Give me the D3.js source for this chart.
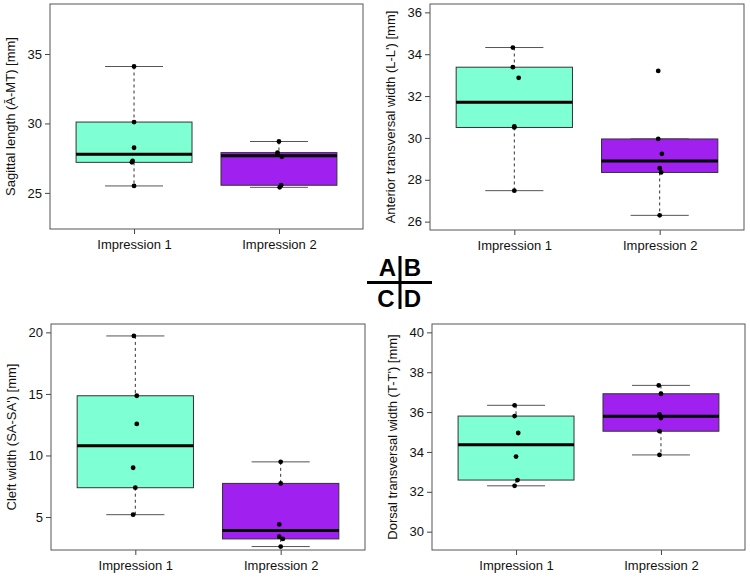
<!DOCTYPE html>
<html><head><meta charset="utf-8">
<script src="https://cdn.jsdelivr.net/npm/d3@7"></script>
<style>body{margin:0;background:#fff;} text{font-family:"Liberation Sans",Arial,sans-serif;}</style>
</head><body>
<svg id="chart" width="750" height="578"></svg>
<script>
const categories = ["Impression 1", "Impression 2"];
const colors = ["#7FFFD4", "#A020F0"];

const panelIds = ["A", "B", "C", "D"];
const yLabels = [
  "Sagittal length (Ā-MT) [mm]",
  "Anterior transversal width (L-L') [mm]",
  "Cleft width (SA-SA') [mm]",
  "Dorsal transversal width (T-T') [mm]"
];
const yLimits = [[23, 38], [26, 36], [3, 20], [29.5, 40]];
const yTicks = [[25, 30, 35], [26, 28, 30, 32, 34, 36], [5, 10, 15, 20], [30, 32, 34, 36, 38, 40]];

// measurements per panel: [Impression 1, Impression 2]
const valuesA1 = [25.5, 27.2, 27.3, 28.25, 30.1, 34.1];
const valuesA2 = [25.4, 25.55, 27.6, 27.75, 27.9, 28.7];
const valuesB1 = [27.48, 30.5, 30.55, 32.87, 33.38, 34.32];
const valuesB2 = [26.3, 28.35, 28.55, 29.24, 29.95, 33.2];
const valuesC1 = [5.19, 7.38, 9.0, 12.56, 14.85, 19.71];
const valuesC2 = [2.6, 3.22, 3.4, 4.4, 7.73, 9.48];
const valuesD1 = [32.3, 32.59, 33.77, 34.95, 35.8, 36.34];
const valuesD2 = [33.85, 35.04, 35.7, 35.89, 36.92, 37.34];

// horizontal jitter of the strip points (category units)
const jitterA1 = [0, -0.015, -0.01, 0, 0, 0];
const jitterA2 = [0.005, 0.015, 0.02, -0.01, -0.01, 0];
const jitterB1 = [0, 0, 0, 0.03, -0.01, -0.01];
const jitterB2 = [0.0, 0.01, 0.0, 0.015, -0.01, -0.01];
const jitterC1 = [-0.015, 0, -0.015, 0.01, 0.01, -0.01];
const jitterC2 = [0, 0.015, -0.01, -0.01, 0.0, 0.0];
const jitterD1 = [-0.01, 0.01, 0.0, 0.015, -0.01, -0.01];
const jitterD2 = [-0.01, -0.01, 0.0, -0.01, 0.0, -0.015];

const panelValues = [[valuesA1, valuesA2], [valuesB1, valuesB2], [valuesC1, valuesC2], [valuesD1, valuesD2]];
const panelJitter = [[jitterA1, jitterA2], [jitterB1, jitterB2], [jitterC1, jitterC2], [jitterD1, jitterD2]];

const frames = [
  {l: 50, r: 363, t: 4, b: 229},
  {l: 430, r: 744, t: 4, b: 230},
  {l: 51, r: 365, t: 324, b: 550},
  {l: 432, r: 745, t: 324, b: 550}
];

function fivenum(v) {
  const x = v.slice().sort((a, b) => a - b);
  const n = x.length;
  const n4 = Math.floor((n + 3) / 2) / 2;
  const d = [1, n4, (n + 1) / 2, n + 1 - n4, n];
  return d.map(i => 0.5 * (x[Math.floor(i) - 1] + x[Math.ceil(i) - 1]));
}

const svg = d3.select("#chart");

panelIds.forEach((id, p) => {
  const f = frames[p];
  const lim = yLimits[p];
  const pad = (lim[1] - lim[0]) * 0.04;
  const y = d3.scaleLinear().domain([lim[0] - pad, lim[1] + pad]).range([f.b, f.t]);
  const x = d3.scaleLinear().domain([0.42, 2.58]).range([f.l, f.r]);
  const g = svg.append("g");

  // axes
  const yAxis = d3.axisLeft(y).tickValues(yTicks[p]).tickSize(5).tickPadding(3).tickFormat(d3.format("d"));
  const ya = g.append("g").attr("transform", `translate(${f.l},0)`).call(yAxis);
  ya.select(".domain").remove();
  ya.selectAll("line").attr("stroke", "#444");
  ya.selectAll("text").attr("font-size", 13).attr("fill", "#111");

  const xAxis = d3.axisBottom(x).tickValues([1, 2]).tickSize(5).tickPadding(6).tickFormat((d, i) => categories[i]);
  const xa = g.append("g").attr("transform", `translate(0,${f.b})`).call(xAxis);
  xa.select(".domain").remove();
  xa.selectAll("line").attr("stroke", "#444");
  xa.selectAll("text").attr("font-size", 13).attr("fill", "#111");

  // y title
  g.append("text")
    .attr("transform", `translate(${f.l - 38},${(f.t + f.b) / 2}) rotate(-90)`)
    .attr("text-anchor", "middle").attr("dominant-baseline", "middle")
    .attr("font-size", 13).attr("fill", "#111")
    .text(yLabels[p]);

  // boxes
  panelValues[p].forEach((vals, k) => {
    const cx = k + 1;
    const s = fivenum(vals);
    const iqr = s[3] - s[1];
    const sorted = vals.slice().sort((a, b) => a - b);
    const lowW = d3.min(sorted.filter(v => v >= s[1] - 1.5 * iqr));
    const hiW = d3.max(sorted.filter(v => v <= s[3] + 1.5 * iqr));
    const hw = 0.4, cw = 0.2;
    // whiskers
    g.append("line").attr("x1", x(cx)).attr("x2", x(cx)).attr("y1", y(hiW)).attr("y2", y(s[3]))
      .attr("stroke", "#333").attr("stroke-dasharray", "3,3");
    g.append("line").attr("x1", x(cx)).attr("x2", x(cx)).attr("y1", y(s[1])).attr("y2", y(lowW))
      .attr("stroke", "#333").attr("stroke-dasharray", "3,3");
    [hiW, lowW].forEach(w => {
      g.append("line").attr("x1", x(cx - cw)).attr("x2", x(cx + cw)).attr("y1", y(w)).attr("y2", y(w))
        .attr("stroke", "#555").attr("stroke-width", 1);
    });
    g.append("rect").attr("x", x(cx - hw)).attr("width", x(cx + hw) - x(cx - hw))
      .attr("y", y(s[3])).attr("height", y(s[1]) - y(s[3]))
      .attr("fill", colors[k]).attr("stroke", "#333").attr("stroke-width", 1);
    g.append("line").attr("x1", x(cx - hw)).attr("x2", x(cx + hw)).attr("y1", y(s[2])).attr("y2", y(s[2]))
      .attr("stroke", "#000").attr("stroke-width", 3);
    // points
    g.selectAll(null).data(vals).enter().append("circle")
      .attr("cx", (d, i) => x(cx + panelJitter[p][k][i]))
      .attr("cy", d => y(d)).attr("r", 2.4).attr("fill", "#000");
  });

  // frame
  g.append("rect").attr("x", f.l).attr("y", f.t).attr("width", f.r - f.l).attr("height", f.b - f.t)
    .attr("fill", "none").attr("stroke", "#555").attr("stroke-width", 1);
});

// panel key
const key = svg.append("g");
key.append("line").attr("x1", 367).attr("x2", 432).attr("y1", 282.5).attr("y2", 282.5).attr("stroke", "#000").attr("stroke-width", 3);
key.append("line").attr("x1", 400).attr("x2", 400).attr("y1", 256).attr("y2", 309).attr("stroke", "#000").attr("stroke-width", 3);
const keyPos = [[387.5, 275.5], [412.5, 275.5], [386, 307], [412.5, 307]];
panelIds.forEach((id, i) => {
  key.append("text").attr("x", keyPos[i][0]).attr("y", keyPos[i][1])
    .attr("text-anchor", "middle").attr("font-size", 24).attr("font-weight", "bold").attr("fill", "#000").text(id);
});
</script>
</body></html>
